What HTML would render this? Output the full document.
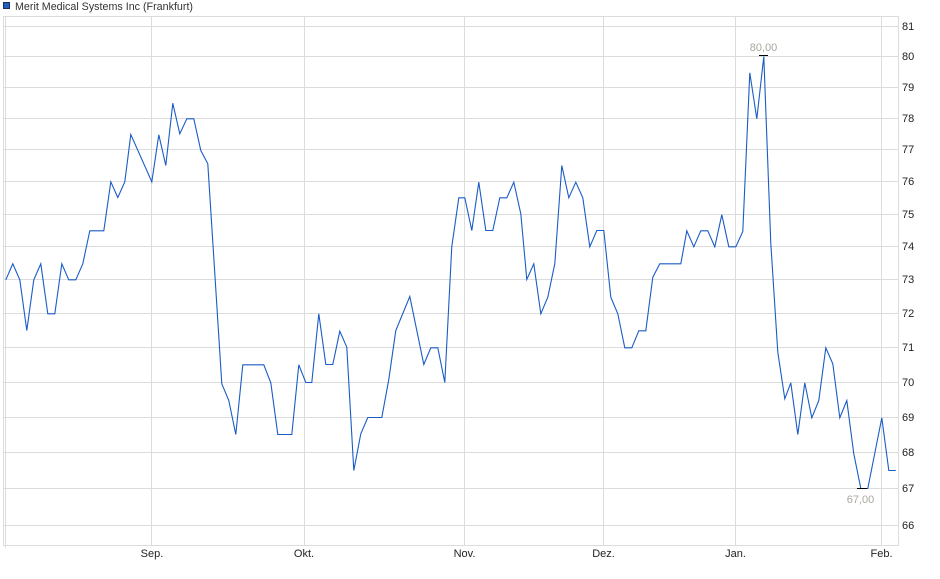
<!DOCTYPE html>
<html>
<head>
<meta charset="utf-8">
<style>
html,body{margin:0;padding:0;background:#fff;}
svg{display:block;}
text{font-family:"Liberation Sans",Arial,sans-serif;}
</style>
</head>
<body>
<svg width="940" height="579" viewBox="0 0 940 579" xmlns="http://www.w3.org/2000/svg">
<rect x="0" y="0" width="940" height="579" fill="#fff"/>
<!-- legend -->
<rect x="3.5" y="2.5" width="6" height="6" fill="#1f5fc4" stroke="#1a2f5c" stroke-width="1"/>
<text x="15" y="10" font-size="11" fill="#333" textLength="178" lengthAdjust="spacingAndGlyphs">Merit Medical Systems Inc (Frankfurt)</text>

<!-- grid -->
<g stroke="#dcdcdc" stroke-width="1" fill="none">
<line x1="3" y1="26.5" x2="898" y2="26.5"/>
<line x1="3" y1="56.5" x2="898" y2="56.5"/>
<line x1="3" y1="87.5" x2="898" y2="87.5"/>
<line x1="3" y1="118.5" x2="898" y2="118.5"/>
<line x1="3" y1="149.5" x2="898" y2="149.5"/>
<line x1="3" y1="181.5" x2="898" y2="181.5"/>
<line x1="3" y1="214.5" x2="898" y2="214.5"/>
<line x1="3" y1="246.5" x2="898" y2="246.5"/>
<line x1="3" y1="279.5" x2="898" y2="279.5"/>
<line x1="3" y1="313.5" x2="898" y2="313.5"/>
<line x1="3" y1="347.5" x2="898" y2="347.5"/>
<line x1="3" y1="382.5" x2="898" y2="382.5"/>
<line x1="3" y1="417.5" x2="898" y2="417.5"/>
<line x1="3" y1="452.5" x2="898" y2="452.5"/>
<line x1="3" y1="488.5" x2="898" y2="488.5"/>
<line x1="3" y1="525.5" x2="898" y2="525.5"/>
<line x1="5.5" y1="16" x2="5.5" y2="548"/>
<line x1="151.5" y1="16" x2="151.5" y2="545"/>
<line x1="304.5" y1="16" x2="304.5" y2="545"/>
<line x1="464.5" y1="16" x2="464.5" y2="545"/>
<line x1="603.5" y1="16" x2="603.5" y2="545"/>
<line x1="735.5" y1="16" x2="735.5" y2="545"/>
<line x1="881.5" y1="16" x2="881.5" y2="545"/>
<rect x="3.5" y="16.5" width="895" height="529"/>
</g>

<!-- y labels -->
<g font-size="11" fill="#222">
<text x="902" y="30">81</text>
<text x="902" y="60">80</text>
<text x="902" y="91">79</text>
<text x="902" y="122">78</text>
<text x="902" y="153">77</text>
<text x="902" y="185">76</text>
<text x="902" y="218">75</text>
<text x="902" y="250">74</text>
<text x="902" y="283">73</text>
<text x="902" y="317">72</text>
<text x="902" y="351">71</text>
<text x="902" y="386">70</text>
<text x="902" y="421">69</text>
<text x="902" y="456">68</text>
<text x="902" y="492">67</text>
<text x="902" y="529">66</text>
</g>

<!-- x labels -->
<g font-size="11" fill="#222" text-anchor="middle">
<text x="152" y="557">Sep.</text>
<text x="304" y="557">Okt.</text>
<text x="464.5" y="557">Nov.</text>
<text x="603.5" y="557">Dez.</text>
<text x="735.5" y="557">Jan.</text>
<text x="881.5" y="557">Feb.</text>
</g>

<!-- series -->
<g transform="translate(0.5,0.5)">
<polyline fill="none" stroke="#1a5cc6" stroke-width="1.1" stroke-linejoin="miter" points="
5.3,279.3 12.3,263.3 19.3,279.3 26.3,330 33.3,279.3 40.3,263.3 47.3,313.3 54.3,313.3 61.3,263.3 68.3,279.3 75.3,279.3 82.3,263.3 89.3,230.3 96.3,230.3 103.3,230.3 110.3,181.3 117.3,197 124.3,181.3 130.3,134 151.3,181.3 158.3,134.3 165.3,165 172.3,102.7 179.3,133.3 186.3,118.3 193.3,118.3 200.3,150 207.3,163.3 214.3,273 221.3,383.3 228.3,400 235.3,434 242.3,364.3 263.3,364.3 270.3,382.3 277.3,434 291.3,434 298.3,364.3 305.3,382 311.3,382 318.3,313.3 325.3,364 332.3,364 339.3,330.7 346.3,346.7 353.3,470 360.3,433.3 367.3,417 381.3,417 388.3,379 395.3,330 409.3,296 423.3,364 430.3,347.3 437.3,347.3 444.3,382 451.3,246 458.3,197.3 464.3,197.3 471.3,230 478.3,181.7 485.3,230 492.3,230 499.3,197.3 506.3,197.3 513.3,181.7 520.3,213.3 526.3,279 533.3,263.3 540.3,313.3 547.3,296.7 554.3,263.3 561.3,165 568.3,197.3 575.3,181.7 582.3,197.3 589.3,246.3 596.3,230 603.3,230 610.3,296.7 617.3,313.3 624.3,347.3 631.3,347.3 638.3,330.3 645.3,330.3 652.3,276.7 659.3,263.3 680.3,263.3 686.3,230.3 693.3,246.3 700.3,230.3 707.3,230.3 714.3,246.3 721.3,214.3 728.3,246.3 735.3,246.3 742.3,231 749.3,72.3 756.3,118.3 763.3,56 770.3,243 777.3,351.7 784.3,398.3 790.3,382.3 797.3,434 804.3,382.3 811.3,417.3 818.3,400 825.3,347.3 832.3,363.3 839.3,417.3 846.3,400 853.3,453.3 860.3,488 867.3,488 881.3,417.3 888.3,470 895.3,470"/>
</g>

<!-- max/min markers -->
<line x1="759" y1="55.5" x2="768" y2="55.5" stroke="#000" stroke-width="1"/>
<line x1="857" y1="488.5" x2="867" y2="488.5" stroke="#000" stroke-width="1"/>
<text x="763.5" y="51" font-size="11" fill="#aaa69f" text-anchor="middle">80,00</text>
<text x="860.5" y="503" font-size="11" fill="#aaa69f" text-anchor="middle">67,00</text>
</svg>
</body>
</html>
